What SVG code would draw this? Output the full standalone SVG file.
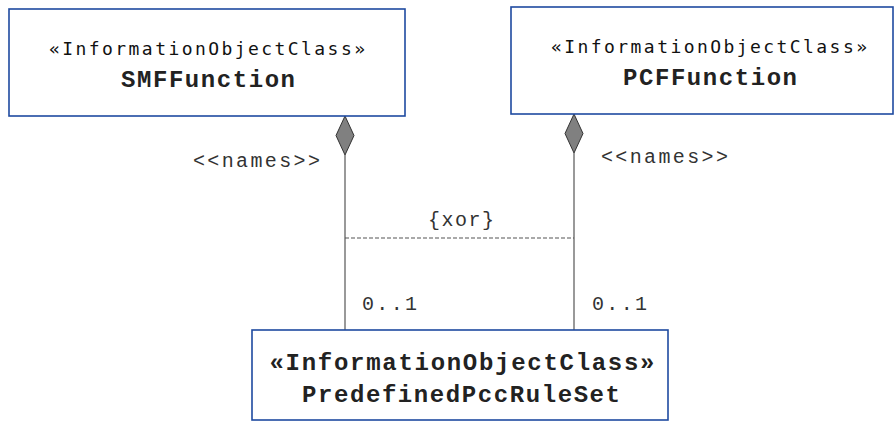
<svg xmlns="http://www.w3.org/2000/svg" width="896" height="421" viewBox="0 0 896 421">
<style>
.box{fill:#fff;stroke:#1f4aa0;stroke-width:1.6}
.st{font-family:"DejaVu Sans Mono",monospace;font-size:18px;fill:#111;text-anchor:middle}
.nm{font-family:"Liberation Mono","Courier New",monospace;font-weight:bold;font-size:24px;fill:#222;text-anchor:middle}
.lb{font-family:"Liberation Mono","Courier New",monospace;font-size:20px;fill:#333}
.ln{stroke:#555;stroke-width:1.2;fill:none}
.dm{fill:#808080;stroke:#333;stroke-width:1}
</style>
<rect width="896" height="421" fill="#fff"/>
<g id="connectors">
<line class="ln" x1="345" y1="155" x2="345" y2="330"/>
<polygon class="dm" points="345,116 354,135.5 345,155 336,135.5"/>
<line class="ln" x1="574" y1="153" x2="574" y2="330"/>
<polygon class="dm" points="574,114 583,133.5 574,153 565,133.5"/>
<line class="ln" x1="345" y1="238" x2="574" y2="238" stroke-dasharray="4,2"/>
<text class="lb" x="428" y="226" textLength="66" lengthAdjust="spacing">{xor}</text>
<text class="lb" x="193" y="167" textLength="127" lengthAdjust="spacing">&lt;&lt;names&gt;&gt;</text>
<text class="lb" x="601" y="163" textLength="127" lengthAdjust="spacing">&lt;&lt;names&gt;&gt;</text>
<text class="lb" x="362" y="310" textLength="55" lengthAdjust="spacing">0..1</text>
<text class="lb" x="592" y="310" textLength="55" lengthAdjust="spacing">0..1</text>
</g>
<g id="SMFFunction">
<rect class="box" x="9" y="9" width="396" height="107"/>
<text class="st" x="207" y="55" textLength="316" lengthAdjust="spacing">«InformationObjectClass»</text>
<text class="nm" x="208" y="87" textLength="174" lengthAdjust="spacing">SMFFunction</text>
</g>
<g id="PCFFunction">
<rect class="box" x="511" y="7" width="382" height="107"/>
<text class="st" x="709" y="53" textLength="316" lengthAdjust="spacing">«InformationObjectClass»</text>
<text class="nm" x="710" y="85" textLength="174" lengthAdjust="spacing">PCFFunction</text>
</g>
<g id="PredefinedPccRuleSet">
<rect class="box" x="252" y="330" width="416" height="90"/>
<text class="nm" x="462" y="370" textLength="385" lengthAdjust="spacing">«InformationObjectClass»</text>
<text class="nm" x="461" y="402" textLength="318" lengthAdjust="spacing">PredefinedPccRuleSet</text>
</g>
</svg>
